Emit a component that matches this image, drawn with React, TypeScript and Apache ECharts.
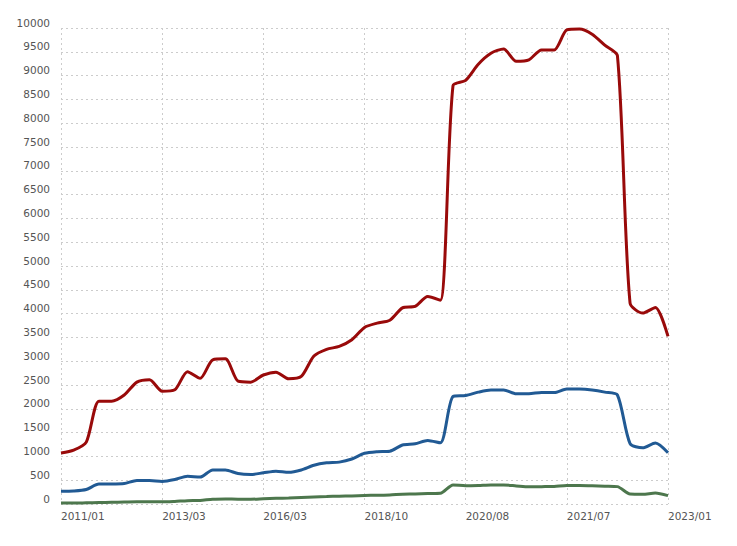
import React, { useEffect, useRef } from "react";
import * as echarts from "echarts";

const categories = [
  "2011/01", "2011/04", "2011/07", "2011/10", "2012/01", "2012/04", "2012/07", "2012/10",
  "2013/03", "2013/07", "2013/11", "2014/03", "2014/07", "2014/11", "2015/03", "2015/09",
  "2016/03", "2016/07", "2016/11", "2017/03", "2017/07", "2017/11", "2018/03", "2018/07",
  "2018/10", "2019/01", "2019/04", "2019/07", "2019/10", "2020/01", "2020/03", "2020/06",
  "2020/08", "2020/09", "2020/10", "2020/11", "2020/12", "2021/02", "2021/04", "2021/06",
  "2021/07", "2021/09", "2021/11", "2022/01", "2022/03", "2022/05", "2022/07", "2022/10",
  "2023/01",
];

const redSeries = [
  1070, 1130, 1300, 2160, 2160, 2290, 2560, 2610,
  2370, 2400, 2780, 2640, 3030, 3050, 2580, 2560,
  2710, 2770, 2630, 2680, 3110, 3250, 3310, 3450,
  3710, 3800, 3860, 4120, 4150, 4360, 4280, 8790,
  8900, 9240, 9470, 9560, 9300, 9330, 9540, 9540,
  9960, 9980, 9870, 9640, 9420, 4220, 4010, 4130,
  3520,
];

const blueSeries = [
  270, 275, 305, 420, 420, 430, 495, 495,
  475, 515, 585, 565, 715, 715, 640, 620,
  655, 690, 665, 715, 815, 865, 880, 945,
  1065, 1100, 1110, 1240, 1265, 1335, 1285, 2260,
  2280, 2350, 2395, 2395, 2315, 2315, 2345, 2340,
  2415, 2415, 2395, 2350, 2290, 1270, 1180, 1280,
  1075,
];

const greenSeries = [
  20, 20, 25, 30, 35, 40, 45, 45,
  45, 55, 70, 75, 100, 105, 100, 100,
  110, 120, 125, 135, 145, 155, 165, 170,
  180, 185, 190, 205, 210, 220, 225, 400,
  385, 390, 400, 400, 380, 360, 365, 370,
  390, 390, 385, 375, 365, 210, 205, 230,
  175,
];

const yTicks = { min: 0, max: 10000, interval: 500 };

export default function App() {
  const ref = useRef<HTMLDivElement>(null);
  useEffect(() => {
    if (!ref.current) return;
    const chart = echarts.init(ref.current, undefined, { renderer: "svg" });
    const lineStyle = (color: string) => ({ color, width: 3 });
    chart.setOption({
      animation: false,
      backgroundColor: "#ffffff",
      grid: { left: 61, right: 69, top: 28, bottom: 42, containLabel: false },
      xAxis: {
        type: "category",
        data: categories,
        boundaryGap: false,
        axisLine: { show: false },
        axisTick: { show: false },
        axisLabel: {
          interval: 7,
          align: "left",
          margin: 6,
          color: "#555555",
          fontFamily: "DejaVu Sans",
          fontSize: 10.5,
        },
        splitLine: {
          show: true,
          interval: 7,
          lineStyle: { color: "#cccccc", type: [2, 3], width: 1 },
        },
      },
      yAxis: {
        type: "value",
        min: yTicks.min,
        max: yTicks.max,
        interval: yTicks.interval,
        axisLine: { show: false },
        axisTick: { show: false },
        axisLabel: {
          margin: 11,
          verticalAlign: "bottom",
          color: "#555555",
          fontFamily: "DejaVu Sans",
          fontSize: 10.5,
          formatter: (v: number) => String(v),
        },
        splitLine: {
          show: true,
          lineStyle: { color: "#cccccc", type: [2, 3], width: 1 },
        },
      },
      series: [
        {
          type: "line",
          data: greenSeries,
          smooth: 0.25,
          showSymbol: false,
          lineStyle: lineStyle("#4d774d"),
          itemStyle: { color: "#4d774d" },
        },
        {
          type: "line",
          data: blueSeries,
          smooth: 0.25,
          showSymbol: false,
          lineStyle: lineStyle("#215a94"),
          itemStyle: { color: "#215a94" },
        },
        {
          type: "line",
          data: redSeries,
          smooth: 0.25,
          showSymbol: false,
          lineStyle: lineStyle("#990a0a"),
          itemStyle: { color: "#990a0a" },
        },
      ],
    });
    return () => chart.dispose();
  }, []);
  return (
    <div
      ref={ref}
      style={{ position: "fixed", left: 0, top: 0, width: 737, height: 546, background: "#fff" }}
    />
  );
}
